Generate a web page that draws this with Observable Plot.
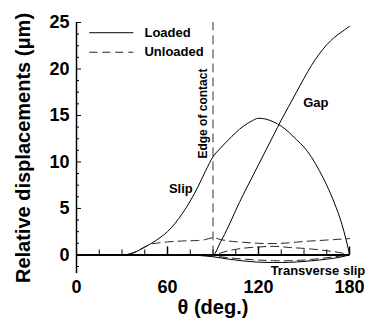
<!DOCTYPE html>
<html>
<head>
<meta charset="utf-8">
<script src="https://cdn.jsdelivr.net/npm/d3@7"></script>
<script src="https://cdn.jsdelivr.net/npm/@observablehq/plot@0.6"></script>
<style>
  html, body { margin: 0; padding: 0; background: #ffffff; }
</style>
</head>
<body>
<script>
// ---- Data ----
const theta = [0,5,10,15,20,25,30,35,40,45,50,55,60,65,70,75,80,85,90,95,100,105,110,115,120,125,130,135,140,145,150,155,160,165,170,175,180];

const slipLoaded = [0,0,0,0,0,0,0,0.1,0.4,0.85,1.3,1.85,2.5,3.4,4.5,5.8,7.3,9.0,10.55,11.5,12.35,13.15,13.85,14.35,14.7,14.6,14.3,13.85,13.2,12.4,11.6,10.5,9.1,7.5,5.6,3.3,0.1];
const gapLoaded = [0,0,0,0,0,0,0,0,0,0,0,0,0,0,0,0,0,0,0,1.4,3.0,4.8,6.5,8.1,9.7,11.3,12.9,14.5,16.0,17.5,19.0,20.4,21.6,22.6,23.4,24.0,24.6];
const transverseLoaded = [0,0,0,0,0,0,0,0,0,0,0,0,0,0,0,0,-0.05,-0.12,-0.2,-0.32,-0.45,-0.55,-0.65,-0.72,-0.78,-0.81,-0.82,-0.82,-0.8,-0.76,-0.7,-0.63,-0.55,-0.46,-0.35,-0.2,0];

const slipUnloaded = [0,0,0,0,0,0,0,0.1,0.4,0.85,1.2,1.3,1.4,1.45,1.5,1.52,1.55,1.65,1.85,1.65,1.5,1.42,1.35,1.3,1.25,1.22,1.22,1.25,1.3,1.37,1.45,1.5,1.55,1.6,1.65,1.7,1.75];
const gapUnloaded = [0,0,0,0,0,0,0,0,0,0,0,0,0,0,0,0,0,0,0,0.2,0.45,0.6,0.72,0.8,0.85,0.9,0.92,0.88,0.8,0.75,0.7,0.63,0.55,0.45,0.35,0.2,0.05];
const transverseUnloaded = [0,0,0,0,0,0,0,0,0,0,0,0,0,0,0,0,0,0,-0.1,-0.2,-0.3,-0.38,-0.45,-0.5,-0.55,-0.6,-0.62,-0.63,-0.62,-0.6,-0.55,-0.48,-0.4,-0.3,-0.2,-0.1,0];

const edgeOfContact = 90;
const edgeSpan = [0, 25];

const xTickLabels = [0, 60, 120, 180];
const xMajorTicks = [60, 120, 180];
const xMinorTicks = [15, 30, 45, 75, 90, 105, 135, 150, 165];
const yTickLabels = [0, 5, 10, 15, 20, 25];
const yMinorTicks = [-1.25, 1.25, 2.5, 3.75, 6.25, 7.5, 8.75, 11.25, 12.5, 13.75, 16.25, 17.5, 18.75, 21.25, 22.5, 23.75];

const xTitle = "θ (deg.)";
const yTitle = "Relative displacements (μm)";

const legendItems = ["Loaded", "Unloaded"];

// ---- Build tables ----
function series(values, name, state) {
  return theta.map((t, i) => ({theta: t, value: values[i], name, state}));
}
const curves = [
  series(slipLoaded, "Slip", "Loaded"),
  series(gapLoaded, "Gap", "Loaded"),
  series(transverseLoaded, "Transverse slip", "Loaded"),
  series(slipUnloaded, "Slip", "Unloaded"),
  series(gapUnloaded, "Gap", "Unloaded"),
  series(transverseUnloaded, "Transverse slip", "Unloaded")
];
const loadedData = curves.slice(0, 3).flat();
const unloadedData = curves.slice(3).flat();

// annotation placements (data space)
const curveLabels = [
  {text: "Slip", theta: 68.8, value: 7.1},
  {text: "Gap", theta: 157.8, value: 16.4},
  {text: "Transverse slip", theta: 159.2, value: -1.7}
];
const edgeLabel = [{text: "Edge of contact", theta: 83.3, value: 15.2}];
const legendLoaded = [{label: legendItems[0], x1: 8.8, x2: 37.8, y: 23.9, textX: 44.8}];
const legendUnloaded = [{label: legendItems[1], x1: 8.8, x2: 37.8, y: 21.8, textX: 44.8}];

const font = "'Liberation Sans', Arial, Helvetica, sans-serif";

const chart = Plot.plot({
  width: 369,
  height: 320,
  marginLeft: 76,
  marginRight: 20,
  marginTop: 22,
  marginBottom: 47,
  x: {domain: [0, 180]},
  y: {domain: [-2, 25]},
  style: {fontFamily: font, fontWeight: "bold", fontSize: "18px", color: "black", background: "white", overflow: "visible"},
  marks: [
    // axes
    Plot.axisX(xTickLabels, {tickSize: 0, tickPadding: 7, label: null, fontSize: 18, fontWeight: "bold"}),
    Plot.axisY(yTickLabels, {tickSize: 0, tickPadding: 7, label: null, fontSize: 18, fontWeight: "bold"}),
    Plot.ruleX([0], {stroke: "black", strokeWidth: 1.5}),
    Plot.ruleY([0], {stroke: "black", strokeWidth: 2}),
    Plot.ruleY(yTickLabels, {y: d => d, x1: 0, x2: 0, insetRight: -5, stroke: "black", strokeWidth: 1}),
    Plot.ruleY(yMinorTicks, {y: d => d, x1: 0, x2: 0, insetRight: -3, stroke: "black", strokeWidth: 1}),
    Plot.ruleX(xMajorTicks, {x: d => d, y1: 0, y2: 0, insetTop: -8, stroke: "black", strokeWidth: 1.5}),
    Plot.ruleX(xMinorTicks, {x: d => d, y1: 0, y2: 0, insetTop: -5, stroke: "black", strokeWidth: 1}),
    Plot.text([xTitle], {frameAnchor: "bottom", dy: 34, lineAnchor: "middle", textAnchor: "middle", fontSize: 20, fontWeight: "bold"}),
    Plot.text([yTitle], {frameAnchor: "left", dx: -53, rotate: -90, textAnchor: "middle", lineAnchor: "middle", fontSize: 20, fontWeight: "bold"}),
    // edge of contact
    Plot.ruleX([edgeOfContact], {x: d => d, y1: edgeSpan[0], y2: edgeSpan[1], stroke: "#333", strokeWidth: 1, strokeDasharray: "9,5"}),
    Plot.text(edgeLabel, {x: "theta", y: "value", text: "text", rotate: -90, fontSize: 12, fontWeight: "bold"}),
    // curves
    Plot.line(unloadedData, {x: "theta", y: "value", z: "name", stroke: "#222", strokeWidth: 1, strokeDasharray: "8,5", curve: "monotone-x"}),
    Plot.line(loadedData, {x: "theta", y: "value", z: "name", stroke: "black", strokeWidth: 1, curve: "monotone-x"}),
    Plot.text(curveLabels, {x: "theta", y: "value", text: "text", fontSize: 13, fontWeight: "bold"}),
    // legend
    Plot.ruleY(legendLoaded, {y: "y", x1: "x1", x2: "x2", stroke: "black", strokeWidth: 1}),
    Plot.ruleY(legendUnloaded, {y: "y", x1: "x1", x2: "x2", stroke: "#222", strokeWidth: 1, strokeDasharray: "8,5"}),
    Plot.text(legendLoaded, {x: "textX", y: "y", text: "label", textAnchor: "start", fontSize: 13, fontWeight: "bold"}),
    Plot.text(legendUnloaded, {x: "textX", y: "y", text: "label", textAnchor: "start", fontSize: 13, fontWeight: "bold"})
  ]
});

document.body.appendChild(chart);
</script>
</body>
</html>
